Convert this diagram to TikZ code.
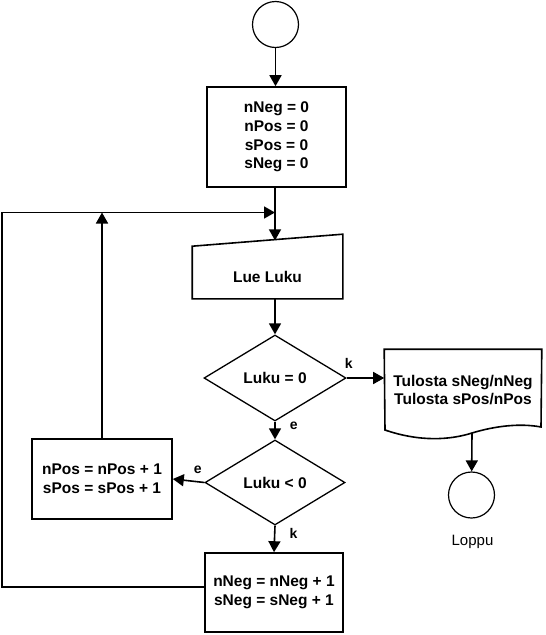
\documentclass[tikz,border=0pt]{standalone}
\usepackage{fontspec}
\setmainfont{Liberation Sans}
\usetikzlibrary{shapes.geometric,arrows.meta}
\begin{document}
\begin{tikzpicture}[x=1pt,y=-1pt,line width=1.6pt,
		arr/.style={-{Triangle[length=11pt,width=12pt]}},
		txt/.style={font=\bfseries\fontsize{15.5}{18.8}\selectfont,align=center},
		box/.style={draw,rectangle,txt,inner sep=0pt},
		ifbox/.style={draw,diamond,txt,inner sep=0pt,line width=1.3pt},
		ends/.style={draw,circle,minimum size=46pt,inner sep=0pt,line width=1.2pt},
		lbl/.style={font=\bfseries\fontsize{14}{16}\selectfont,inner sep=2pt}]
		\useasboundingbox (0,0) rectangle (546,635);
		\node[ends] (start) at (275.5,24.5) {};
		\node[box,minimum width=139pt,minimum height=100pt] (init) at (276.5,137) {nNeg = 0\\nPos = 0\\sPos = 0\\sNeg = 0};
		\node[minimum width=149pt,minimum height=63pt,inner sep=0pt] (read) at (267.5,266.5) {};
		\draw (read.south west) -- (read.south east) -- (read.north east) -- ([yshift=-12pt]read.north west) -- cycle;
		\node[txt,yshift=-10.5pt] (readtxt) at (read) {Lue Luku};
		\node[ifbox,minimum width=142pt,minimum height=86pt] (dec1) at (275,378) {Luku = 0};
		\node[txt,minimum width=156pt,minimum height=80pt,inner sep=0pt] (doc) at (463,390) {Tulosta sNeg/nNeg\\Tulosta sPos/nPos};
		\draw (doc.north west) -- (doc.north east) -- (541,427) .. controls (520,423) and (495,426) .. (472,433) .. controls (450,440) and (420,442) .. (385,430) -- cycle;
		\node[ends] (end) at (471.5,495) {};
		\node[font=\fontsize{15}{17}\selectfont] (endlbl) at (472.5,542) {Loppu};
		\node[ifbox,minimum width=140pt,minimum height=85pt] (dec2) at (275,482.5) {Luku < 0};
		\node[box,minimum width=140pt,minimum height=80pt] (pos) at (102,479) {nPos = nPos + 1\\sPos = sPos + 1};
		\node[box,minimum width=138pt,minimum height=79pt] (neg) at (274,592.5) {nNeg = nNeg + 1\\sNeg = sNeg + 1};
		\coordinate (join) at (275,212.5);
		\coordinate (back) at (2,587);
		\coordinate (readin) at (275,240.4);
		\coordinate (docout) at (472,433);
		\draw[arr] (start) -- (start |- init.north);
		\draw[arr] (init.south -| readin) -- (readin);
		\draw[arr] (read.south -| dec1) -- (dec1.north);
		\draw[arr] (dec1.south) -- (dec2.north) node[lbl,pos=0.26,right,xshift=12pt] {e};
		\draw[arr] (dec1.east) -- (dec1.east -| doc.west) node[lbl,pos=0,above,xshift=2pt,yshift=7pt] {k};
		\draw[arr] (docout) -- (end);
		\draw[arr] (dec2.west) -- (pos.east) node[lbl,pos=0,above left,yshift=6pt] {e};
		\draw[arr] (dec2.south) -- (neg.north) node[lbl,pos=0.29,right,xshift=12pt] {k};
		\draw[arr] (pos.north) -- (pos.north |- join);
		\draw[arr] (neg.west |- back) -- (back) |- (join);
	\end{tikzpicture}
\end{document}
